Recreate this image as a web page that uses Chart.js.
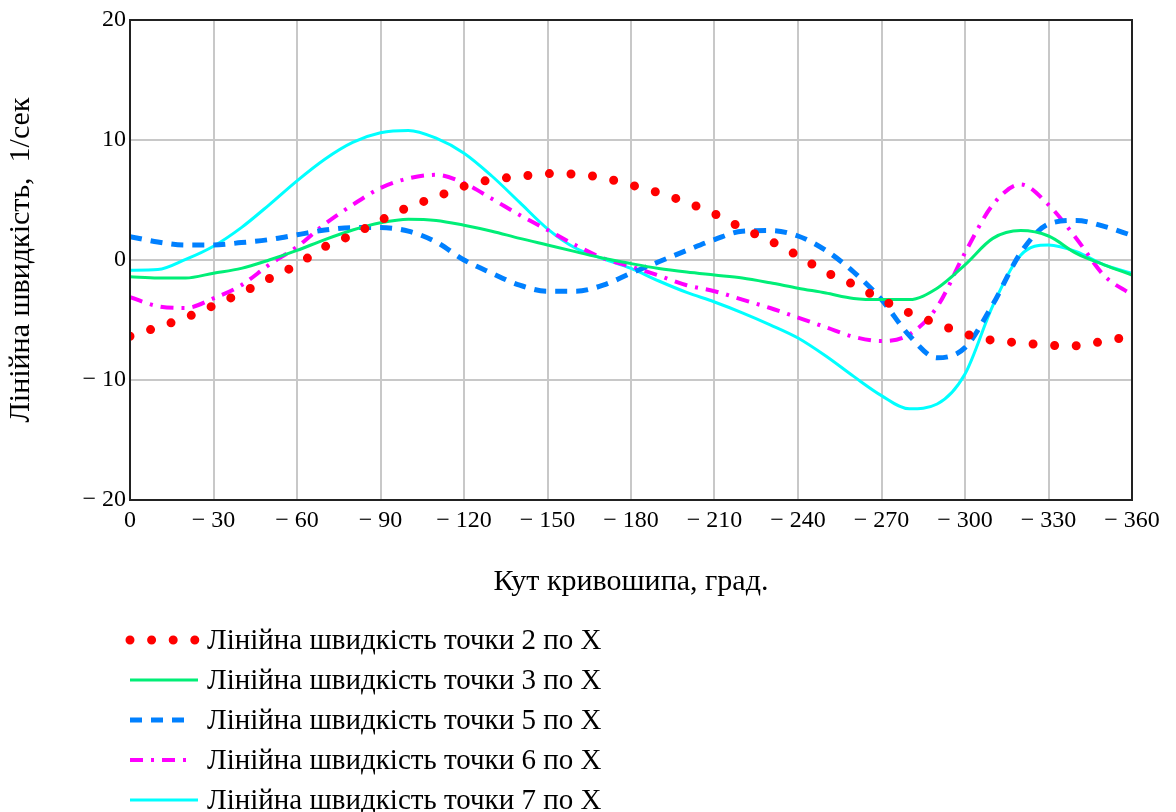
<!DOCTYPE html>
<html>
<head>
  <meta charset="utf-8">
  <title>Лінійна швидкість точок по X</title>
  <script src="https://cdn.jsdelivr.net/npm/chart.js"></script>
  <style>
    html, body { margin: 0; padding: 0; background: #fff; }
    #wrap { width: 1176px; height: 812px; }
  </style>
</head>
<body>
  <div id="wrap"><canvas id="chart_vx"></canvas></div>

  <script>
    // кут кривошипа, град.
    const angles = [0, -10, -20, -30, -40, -50, -60, -70, -80, -90, -100, -110, -120,
      -130, -140, -150, -160, -170, -180, -190, -200, -210, -220, -230, -240, -250,
      -260, -270, -280, -290, -300, -310, -320, -330, -340, -350, -360];

    // лінійні швидкості точок по X, 1/сек
    const v2x = [-6.35, -5.6, -4.8, -3.8, -2.75, -1.55, -0.4, 1.1, 2.1, 3.3, 4.4, 5.25, 6.15,
      6.7, 6.95, 7.2, 7.15, 6.85, 6.25, 5.6, 4.8, 3.85, 2.65, 1.6, 0.35, -1.0,
      -2.05, -3.3, -4.4, -5.3, -6.15, -6.7, -6.9, -7.1, -7.15, -6.75, -6.35];
    const v3x = [-1.4, -1.5, -1.5, -1.1, -0.7, 0.0, 0.8, 1.7, 2.5, 3.1, 3.4, 3.3, 2.9,
      2.4, 1.8, 1.25, 0.7, 0.15, -0.3, -0.7, -1.0, -1.25, -1.5, -1.9, -2.35, -2.75,
      -3.2, -3.3, -3.3, -2.35, -0.4, 1.8, 2.45, 2.0, 0.55, -0.4, -1.25];
    const v5x = [1.95, 1.5, 1.25, 1.25, 1.45, 1.7, 2.1, 2.5, 2.7, 2.7, 2.4, 1.5, 0.0,
      -1.1, -2.1, -2.6, -2.6, -2.1, -1.1, -0.15, 0.8, 1.7, 2.4, 2.45, 2.0, 0.8,
      -1.0, -3.3, -6.3, -8.15, -7.3, -3.7, 0.6, 3.0, 3.3, 2.8, 2.05];
    const v6x = [-3.1, -3.85, -4.0, -3.2, -2.1, -0.4, 1.1, 3.0, 4.6, 6.0, 6.8, 7.1, 6.4,
      5.1, 3.75, 2.5, 1.25, 0.15, -0.55, -1.3, -2.1, -2.6, -3.3, -4.0, -4.8, -5.6,
      -6.4, -6.75, -6.2, -3.9, 0.6, 4.6, 6.3, 4.6, 1.8, -1.3, -2.9];
    const v7x = [-0.85, -0.8, 0.05, 1.15, 2.7, 4.6, 6.6, 8.4, 9.8, 10.6, 10.8, 10.15, 8.9,
      7.0, 4.8, 2.6, 1.0, 0.1, -0.7, -1.75, -2.7, -3.5, -4.4, -5.4, -6.5, -8.0,
      -9.7, -11.3, -12.4, -12.0, -9.5, -3.8, 0.4, 1.25, 0.7, -0.4, -1.1];

    const seriesNames = [
      'Лінійна швидкість точки 2 по X',
      'Лінійна швидкість точки 3 по X',
      'Лінійна швидкість точки 5 по X',
      'Лінійна швидкість точки 6 по X',
      'Лінійна швидкість точки 7 по X'
    ];

    const serif = '"Liberation Serif", "Times New Roman", serif';

    function pts(values) {
      return angles.map((a, i) => ({ x: a, y: values[i] }));
    }

    function minusLabel(v) {
      return v < 0 ? '\u2212 ' + Math.abs(v) : String(v);
    }

    // legend below the plot, drawn with the same line styles as the datasets
    const bottomLegend = {
      id: 'bottomLegend',
      afterDraw(chart) {
        const ctx = chart.ctx;
        chart.data.datasets.forEach((ds, i) => {
          const y = 640 + i * 40;
          let end = 198;
          if (ds.borderDash) end = ds.borderCapStyle === 'round' ? 196 : 188;
          ctx.save();
          ctx.strokeStyle = ds.borderColor;
          ctx.lineWidth = ds.borderWidth;
          ctx.lineCap = ds.borderCapStyle || 'butt';
          ctx.setLineDash(ds.borderDash || []);
          ctx.beginPath();
          ctx.moveTo(130, y);
          ctx.lineTo(end, y);
          ctx.stroke();
          ctx.setLineDash([]);
          ctx.fillStyle = '#000';
          ctx.font = '29px ' + serif;
          ctx.textBaseline = 'middle';
          ctx.fillText(ds.label, 207, y + 1);
          ctx.restore();
        });
      }
    };

    // dark frame round the plot area
    const plotFrame = {
      id: 'plotFrame',
      afterDatasetsDraw(chart) {
        const a = chart.chartArea;
        const ctx = chart.ctx;
        ctx.save();
        ctx.strokeStyle = '#222';
        ctx.lineWidth = 2;
        ctx.strokeRect(a.left, a.top, a.right - a.left, a.bottom - a.top);
        ctx.restore();
      }
    };

    const ctx = document.getElementById('chart_vx').getContext('2d');
    new Chart(ctx, {
      type: 'line',
      data: {
        datasets: [
          {
            label: seriesNames[0], data: pts(v2x),
            borderColor: '#ff0000', borderWidth: 9,
            borderDash: [0, 21.6], borderCapStyle: 'round'
          },
          {
            label: seriesNames[1], data: pts(v3x),
            borderColor: '#00ee77', borderWidth: 3
          },
          {
            label: seriesNames[2], data: pts(v5x),
            borderColor: '#0080ff', borderWidth: 5,
            borderDash: [12, 9]
          },
          {
            label: seriesNames[3], data: pts(v6x),
            borderColor: '#ff00ff', borderWidth: 4,
            borderDash: [13, 8, 3, 8]
          },
          {
            label: seriesNames[4], data: pts(v7x),
            borderColor: '#00ffff', borderWidth: 3
          }
        ]
      },
      options: {
        responsive: true,
        maintainAspectRatio: false,
        animation: false,
        layout: { padding: { left: 0, top: 20, right: 44, bottom: 212 } },
        elements: {
          point: { radius: 0 },
          line: { cubicInterpolationMode: 'monotone', fill: false }
        },
        plugins: {
          legend: { display: false },
          tooltip: { enabled: false }
        },
        scales: {
          x: {
            type: 'linear',
            min: -360, max: 0,
            reverse: true,
            afterFit(scale) { scale.height = 100; },
            border: { display: false },
            grid: { color: '#c8c8c8', lineWidth: 2, drawTicks: false },
            ticks: {
              stepSize: 30, autoSkip: false, maxRotation: 0, padding: 6,
              color: '#000', font: { family: serif, size: 24 },
              callback: minusLabel
            },
            title: {
              display: true, text: 'Кут кривошипа, град.',
              color: '#000', font: { family: serif, size: 30 },
              padding: { top: 0, bottom: 0 }
            }
          },
          y: {
            min: -20, max: 20,
            afterFit(scale) { scale.width = 130; },
            border: { display: false },
            grid: { color: '#c8c8c8', lineWidth: 2, drawTicks: false },
            ticks: {
              stepSize: 10, padding: 4,
              color: '#000', font: { family: serif, size: 24 },
              callback: minusLabel
            },
            title: {
              display: true, text: 'Лінійна швидкість,  1/сек',
              color: '#000', font: { family: serif, size: 30 },
              padding: { top: 3, bottom: 0 }
            }
          }
        }
      },
      plugins: [bottomLegend, plotFrame]
    });
  </script>
</body>
</html>
